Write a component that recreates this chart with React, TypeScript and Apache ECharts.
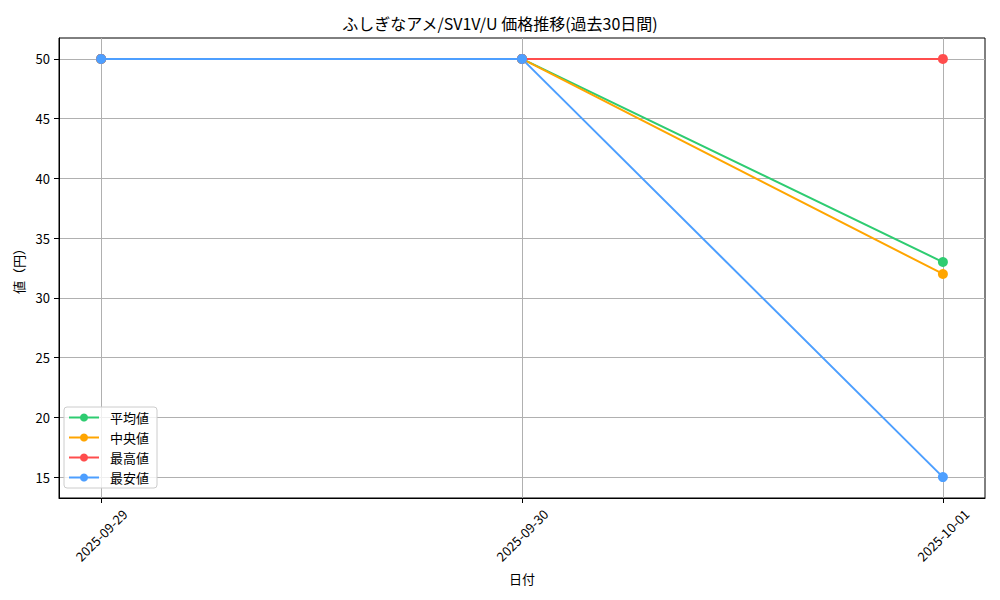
import React, { useEffect, useRef } from 'react';
import * as echarts from 'echarts';

const dates = ['2025-09-29', '2025-09-30', '2025-10-01'];
const avgValues = [50, 50, 33];
const medianValues = [50, 50, 32];
const maxValues = [50, 50, 50];
const minValues = [50, 50, 15];
const yTicks = [15, 20, 25, 30, 35, 40, 45, 50];

const seriesNames = ['平均値', '中央値', '最高値', '最安値'];
const seriesColors = ['#2ecc71', '#ffa500', '#ff4d4d', '#4d9fff'];
const seriesValues = [avgValues, medianValues, maxValues, minValues];

const FONT = '"Noto Sans CJK JP", sans-serif';

const App: React.FC = () => {
  const chartRef = useRef<HTMLDivElement | null>(null);

  useEffect(() => {
    let chart: echarts.ECharts | null = null;
    if (chartRef.current) {
      chart = echarts.init(chartRef.current, undefined, { renderer: 'svg' });

      const xIdx = dates.map((_, i) => i);

      const option = {
        animation: false,
        backgroundColor: '#fff',
        textStyle: { fontFamily: FONT },
        title: {
          text: 'ふしぎなアメ/SV1V/U 価格推移(過去30日間)',
          left: 'center',
          top: 10,
          textStyle: { fontFamily: FONT, fontSize: 16, fontWeight: 'normal', color: '#000' },
        },
        grid: {
          left: 59,
          right: 15,
          top: 38,
          bottom: 102,
          show: true,
          borderColor: '#000',
          borderWidth: 1,
        },
        legend: {
          orient: 'vertical',
          left: 64,
          top: 407,
          data: seriesNames,
          itemWidth: 30,
          itemHeight: 10,
          itemGap: 7,
          padding: [4, 8, 4, 4],
          backgroundColor: 'rgba(255,255,255,0.8)',
          borderColor: '#cccccc',
          borderWidth: 1,
          borderRadius: 3,
          textStyle: { fontFamily: FONT, fontSize: 13, color: '#000', padding: [0, 0, 0, 6] },
        },
        xAxis: {
          type: 'value',
          min: -0.1,
          max: 2.1,
          name: '日付',
          nameLocation: 'middle',
          nameGap: 74,
          nameTextStyle: { fontFamily: FONT, fontSize: 13, color: '#000' },
          axisLine: { show: true, onZero: false, lineStyle: { color: '#000', width: 1 } },
          axisTick: {
            show: true,
            length: 5,
            customValues: xIdx,
            lineStyle: { color: '#000' },
          },
          axisLabel: {
            customValues: xIdx,
            formatter: (v: number) => dates[Math.round(v)] ?? '',
            rotate: 45,
            align: 'center',
            verticalAlign: 'middle',
            margin: 37,
            fontFamily: FONT,
            fontSize: 13,
            color: '#000',
          },
          splitLine: { show: true, lineStyle: { color: '#b0b0b0', width: 1 } },
        },
        yAxis: {
          type: 'value',
          min: 13.25,
          max: 51.75,
          name: '値（円）',
          nameLocation: 'middle',
          nameGap: 32,
          nameTextStyle: { fontFamily: FONT, fontSize: 13, color: '#000' },
          axisLine: { show: true, onZero: false, lineStyle: { color: '#000', width: 1 } },
          axisTick: {
            show: true,
            length: 5,
            customValues: yTicks,
            lineStyle: { color: '#000' },
          },
          axisLabel: {
            customValues: yTicks,
            margin: 9,
            fontFamily: FONT,
            fontSize: 13,
            color: '#000',
          },
          splitLine: { show: true, lineStyle: { color: '#b0b0b0', width: 1 } },
        },
        series: seriesNames.map((name, s) => ({
          name,
          type: 'line',
          data: seriesValues[s].map((v, i) => [i, v]),
          symbol: 'circle',
          symbolSize: 10,
          color: seriesColors[s],
          lineStyle: { width: 2, color: seriesColors[s] },
          itemStyle: { color: seriesColors[s] },
        })),
      };

      chart.setOption(option as any);
    }

    return () => {
      chart?.dispose();
    };
  }, []);

  return (
    <div
      ref={chartRef}
      style={{ position: 'fixed', left: 0, top: 0, width: 1000, height: 600 }}
    ></div>
  );
};

export default App;
